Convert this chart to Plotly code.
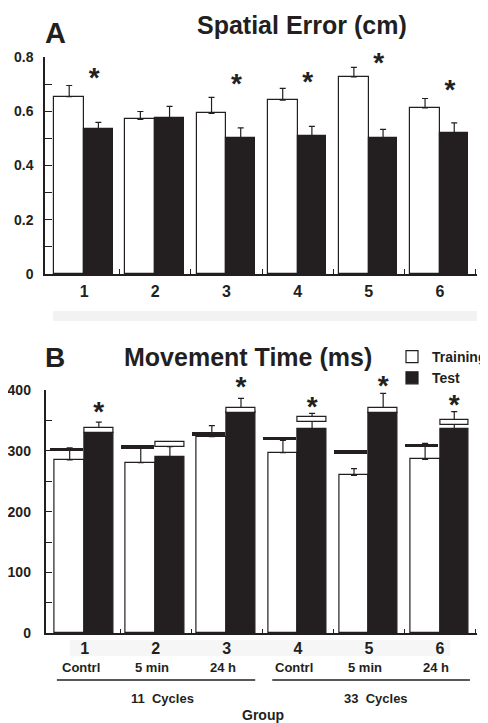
import plotly.graph_objects as go

groups = [1, 2, 3, 4, 5, 6]
group_labels = ["1", "2", "3", "4", "5", "6"]
condition_labels = ["Contrl", "5 min", "24 h", "Contrl", "5 min", "24 h"]
cycle_labels = ["11  Cycles", "33  Cycles"]

# Panel A: Spatial Error (cm)
se_training = [0.654, 0.570, 0.592, 0.641, 0.727, 0.612]
se_training_err = [0.041, 0.029, 0.059, 0.043, 0.035, 0.035]
se_test = [0.534, 0.575, 0.500, 0.508, 0.500, 0.518]
se_test_err = [0.025, 0.043, 0.039, 0.036, 0.033, 0.039]
se_star_groups = [1, 3, 4, 5, 6]
se_star_y = [0.716, 0.694, 0.701, 0.771, 0.672]

# Panel B: Movement Time (ms)
mt_training = [285, 280.5, 323.3, 297, 259.7, 286]
mt_training_err = [20, 26.3, 18, 20.3, 10.9, 26.3]
mt_test = [329.2, 289.3, 363.3, 335.3, 362.6, 335.9]
mt_test_err = [18.1, 17.5, 23, 26.3, 31.9, 28.4]
mt_training_mark = [302, 306, 328, 320.5, 298, 309]
mt_test_mark = [333.5, 311, 367, 351, 366, 347]
mt_star_groups = [1, 3, 4, 5, 6]
mt_star_y = [360.8, 401, 368.6, 403.7, 371.9]

DARK = "#231f20"
FONT = "Liberation Sans, Arial, Helvetica, sans-serif"
OFF = 8  # page body margin
W, H = 488 - OFF, 723 - OFF

def px(x):
    return (x - OFF) / W

def py(y):
    return 1 - (y - OFF) / H

# panel B vertical geometry (pixels): 0 ms at 633.3, 400 ms at 390
B_ZERO, B_TOP = 633.3, 390.0
B_SCALE = (B_ZERO - B_TOP) / 400.0
STAR_RANGE_B = 450

fig = go.Figure()

def add_panel(xa, ya, tr, tr_err, te, te_err, legend):
    fig.add_trace(go.Bar(
        x=groups, y=tr, offset=-0.42, width=0.42, name="Training",
        marker=dict(color="white", line=dict(color=DARK, width=1.2)),
        error_y=dict(type="data", array=tr_err, arrayminus=[0] * len(tr_err),
                     symmetric=False, color=DARK, thickness=1.2, width=3),
        xaxis=xa, yaxis=ya, showlegend=legend))
    fig.add_trace(go.Bar(
        x=groups, y=te, offset=0.0, width=0.40, name="Test",
        marker=dict(color=DARK, line=dict(color=DARK, width=1.2)),
        error_y=dict(type="data", array=te_err, arrayminus=[0] * len(te_err),
                     symmetric=False, color=DARK, thickness=1.2, width=3),
        xaxis=xa, yaxis=ya, showlegend=legend))

add_panel("x", "y", se_training, se_training_err, se_test, se_test_err, False)
add_panel("x2", "y2", mt_training, mt_training_err, mt_test, mt_test_err, True)

# overlay marks in panel B
fig.add_trace(go.Bar(
    x=groups, y=[6] * 6, base=[v - 3 for v in mt_training_mark],
    offset=-0.5, width=0.47, marker=dict(color=DARK, line=dict(width=0)),
    xaxis="x2", yaxis="y2", showlegend=False, hoverinfo="skip"))
fig.add_trace(go.Bar(
    x=groups, y=[8] * 6, base=[v - 4 for v in mt_test_mark],
    offset=0.0, width=0.40, marker=dict(color="white", line=dict(color=DARK, width=1.2)),
    xaxis="x2", yaxis="y2", showlegend=False, hoverinfo="skip"))

# significance asterisks
fig.add_trace(go.Scatter(
    x=[g + 0.14 for g in se_star_groups], y=se_star_y, mode="text", text=["<b>*</b>"] * 5,
    textposition="middle center", textfont=dict(family=FONT, size=28, color=DARK),
    cliponaxis=False, xaxis="x", yaxis="y", showlegend=False, hoverinfo="skip"))
fig.add_trace(go.Scatter(
    x=[g + 0.2 for g in mt_star_groups], y=mt_star_y, mode="text", text=["<b>*</b>"] * 5,
    textposition="middle center", textfont=dict(family=FONT, size=28, color=DARK),
    cliponaxis=False, xaxis="x2", yaxis="y3", showlegend=False, hoverinfo="skip"))

xcommon = dict(
    range=[0.45, 6.52], tickmode="array", tickvals=groups, ticktext=group_labels,
    ticks="", showline=True, linecolor=DARK, linewidth=1.5, showgrid=False,
    zeroline=False,
    tickfont=dict(family=FONT, size=16, color=DARK, weight="bold"),
    minor=dict(tickmode="array", tickvals=[1.5, 2.5, 3.5, 4.5, 5.5, 6.5],
               ticks="inside", ticklen=5, tickcolor=DARK, tickwidth=1.2, showgrid=False),
)

fig.update_layout(
    width=W, height=H,
    margin=dict(l=0, r=0, t=0, b=0, autoexpand=False),
    paper_bgcolor="white", plot_bgcolor="rgba(0,0,0,0)",
    barmode="overlay", bargap=0,
    xaxis=dict(domain=[px(45), px(477)], anchor="y", ticklabelstandoff=2, **xcommon),
    yaxis=dict(domain=[py(274), py(57)], anchor="x", range=[0, 0.8],
               tickmode="array", tickvals=[0, 0.2, 0.4, 0.6, 0.8],
               ticktext=["0", "0.2", "0.4", "0.6", "0.8"],
               ticks="inside", ticklen=7, tickcolor=DARK, tickwidth=1.2,
               showline=True, linecolor=DARK, linewidth=1.5, showgrid=False, zeroline=False,
               ticklabelstandoff=7,
               tickfont=dict(family=FONT, size=14, color=DARK, weight="bold"),
               minor=dict(tickmode="array", tickvals=[0.1, 0.3, 0.5, 0.7], ticks="inside",
                          ticklen=7, tickcolor=DARK, tickwidth=1.2, showgrid=False)),
    xaxis2=dict(domain=[px(45.5), px(477)], anchor="y2", ticklabelstandoff=0, **xcommon),
    yaxis2=dict(domain=[py(B_ZERO), py(B_TOP)], anchor="x2", range=[0, 400],
                tickmode="array", tickvals=[0, 100, 200, 300, 400],
                ticktext=["0", "100", "200", "300", "400"],
                ticks="inside", ticklen=7, tickcolor=DARK, tickwidth=1.2,
                showline=True, linecolor=DARK, linewidth=1.5, showgrid=False, zeroline=False,
                ticklabelstandoff=10,
                tickfont=dict(family=FONT, size=14, color=DARK, weight="bold"),
                minor=dict(tickmode="array", tickvals=[50, 150, 250, 350], ticks="inside",
                           ticklen=7, tickcolor=DARK, tickwidth=1.2, showgrid=False)),
    yaxis3=dict(domain=[py(B_ZERO), py(B_ZERO - STAR_RANGE_B * B_SCALE)], anchor="x2",
                range=[0, STAR_RANGE_B], visible=False, showgrid=False, zeroline=False),
    legend=dict(x=px(392), y=py(341), xanchor="left", yanchor="top",
                font=dict(family=FONT, size=14, color=DARK, weight="bold"),
                bgcolor="rgba(0,0,0,0)", tracegroupgap=0, itemwidth=30),
    showlegend=True,
)

def label(text, x, y, size, xref="paper"):
    return dict(text="<b>" + text + "</b>", x=x, y=y, xref=xref, yref="paper",
                xanchor="center", yanchor="middle", showarrow=False,
                font=dict(family=FONT, size=size, color=DARK))

ann = [
    label("Spatial Error (cm)", px(301.5), py(25), 25),
    label("A", px(55), py(33), 29),
    label("Movement Time (ms)", px(248), py(357), 25),
    label("B", px(55), py(357), 28),
    label("Group", px(263), py(715), 14),
]
for g, lab in zip(groups, condition_labels):
    ann.append(label(lab, g - 0.05, py(667), 13, xref="x2"))
for xc, lab in zip([2.1, 5.1], cycle_labels):
    ann.append(label(lab, xc, py(698), 13, xref="x2"))
fig.update_layout(annotations=ann)

shapes = [
    dict(type="rect", xref="paper", yref="paper", x0=px(53), x1=px(477), y0=py(321), y1=py(311),
         fillcolor="#f2f2f2", line=dict(width=0), layer="below"),
    dict(type="rect", xref="paper", yref="paper", x0=px(70), x1=px(450), y0=py(656), y1=py(640),
         fillcolor="#f6f6f6", line=dict(width=0), layer="below"),
    dict(type="line", xref="x2", yref="paper", x0=0.61, x1=3.4, y0=py(680), y1=py(680),
         line=dict(color=DARK, width=1.3)),
    dict(type="line", xref="x2", yref="paper", x0=3.64, x1=6.42, y0=py(680), y1=py(680),
         line=dict(color=DARK, width=1.3)),
]
fig.update_layout(shapes=shapes)

fig.write_html("out.html")
